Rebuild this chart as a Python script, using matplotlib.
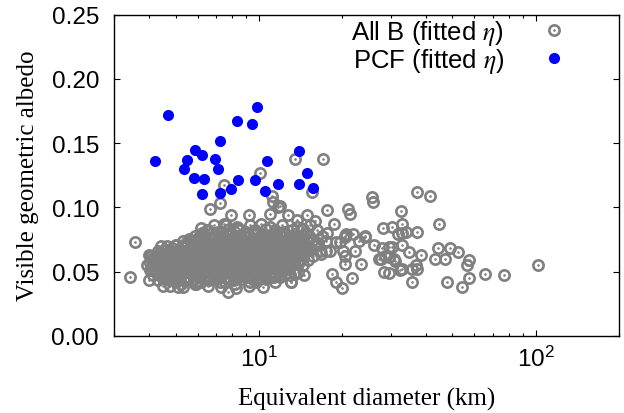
import matplotlib
matplotlib.use("Agg")
import matplotlib.pyplot as plt
from matplotlib.legend_handler import HandlerTuple
from matplotlib.ticker import LogLocator, NullFormatter, FormatStrFormatter

plt.rcParams['font.family'] = ['Liberation Sans', 'DejaVu Sans']
plt.rcParams['mathtext.fontset'] = 'stix'

# PCF family, fitted eta
pcf_diam = [4.2, 4.7, 5.35, 5.5, 5.8, 5.85, 6.2, 6.35, 6.2, 6.95, 7.1, 7.25, 7.25,
            7.9, 8.3, 8.4, 9.45, 9.8, 9.65, 10.55, 10.65, 11.75, 14.0, 14.9, 14.0, 15.7]
pcf_alb = [0.136, 0.172, 0.130, 0.137, 0.123, 0.145, 0.141, 0.122, 0.110, 0.138, 0.130, 0.152, 0.111,
           0.114, 0.167, 0.121, 0.165, 0.178, 0.121, 0.113, 0.136, 0.118, 0.144, 0.127, 0.118, 0.115]

# all B-types, fitted eta (scattered ones first, then the dense core row by row)
allb_diam = [
    3.55, 3.42, 4.07, 4.43, 4.02, 4.49, 5.02, 5.69, 6.18, 6.21, 6.63, 5.85, 5.09, 4.13, 4.19,
    6.45, 5.99, 5.23, 4.43, 4.95, 7.45, 7.2, 10.1, 11.1, 11.7, 13.5, 17.1, 15.6, 17.6, 7.9,
    9.2, 11.0, 12.7, 14.9, 21.0, 16.0, 7.62, 8.39, 11.2, 11.9, 13.7, 6.53, 6.45, 7.72, 8.28,
    7.21, 9.78, 10.9, 11.9, 13.1, 13.5,
    37.2, 41.6, 25.6, 25.8, 21.4, 32.6, 44.7, 37.2, 28.0, 30.2, 33.0, 33.0, 34.1, 18.6, 17.6,
    20.7, 21.9, 24.2, 22.9, 22.3, 26.0, 27.8, 29.4, 27.1, 28.6, 30.7, 34.7, 38.6, 44.5, 49.0,
    52.3, 43.3, 47.0, 57.3, 56.3, 102.0, 65.5, 76.5, 57.3, 54.3, 47.7, 35.8, 35.6, 37.0, 32.2,
    28.4, 23.4, 20.4, 18.4, 18.9, 20.0, 21.7, 14.6, 13.0, 20.5, 19.6, 20.2, 17.4, 16.7, 16.0,
    18.9, 20.4, 27.7, 31.9, 32.8, 30.2, 31.0, 29.4, 29.4, 32.8, 37.1, 18.1, 24.1, 20.4, 16.3,
    # core
    6.9, 7.5, 8.3, 9.3, 10.2, 11.0, 12.1, 13.7, 15.3,
    6.5, 7.1, 7.8, 8.5, 9.0, 9.7, 10.6, 11.4, 12.3, 13.2, 14.4, 16.2,
    5.85, 6.3, 6.7, 7.2, 7.6, 8.2, 8.6, 9.2, 9.7, 10.3, 10.9, 11.6, 12.4, 13.1, 14.0, 15.1, 16.9,
    5.3, 5.6, 6.0, 6.4, 6.8, 7.2, 7.7, 8.2, 8.7, 9.25, 9.9, 10.5, 11.1, 11.9, 12.7, 13.5, 14.4, 15.5, 17.4,
    4.65, 5.0, 5.35, 5.7, 6.05, 6.45, 6.85, 7.3, 7.8, 8.3, 8.8, 9.4, 10.0, 10.6, 11.3, 12.0, 12.8, 13.7, 14.6, 15.9,
    4.3, 4.6, 4.9, 5.25, 5.55, 5.9, 6.25, 6.65, 7.0, 7.5, 7.95, 8.5, 9.0, 9.65, 10.2, 10.9, 11.6, 12.4, 13.2, 14.2, 15.3, 16.6,
    4.0, 4.3, 4.55, 4.85, 5.1, 5.4, 5.75, 6.1, 6.45, 6.85, 7.25, 7.7, 8.2, 8.75, 9.25, 9.8, 10.4, 11.1, 11.8, 12.6, 13.5, 14.4, 15.7,
    4.1, 4.4, 4.7, 4.95, 5.25, 5.55, 5.9, 6.25, 6.6, 7.0, 7.45, 7.95, 8.45, 8.95, 9.5, 10.05, 10.75, 11.4, 12.2, 13.0, 13.9, 15.0,
    3.95, 4.25, 4.5, 4.75, 5.0, 5.35, 5.65, 6.0, 6.35, 6.7, 7.1, 7.6, 8.05, 8.6, 9.1, 9.65, 10.3, 10.9, 11.7, 12.5, 13.4, 14.4,
    4.05, 4.35, 4.6, 4.9, 5.15, 5.45, 5.8, 6.15, 6.5, 6.9, 7.3, 7.75, 8.25, 8.8, 9.3, 9.9, 10.55, 11.2, 12.0, 12.8, 13.8,
    4.15, 4.45, 4.75, 5.1, 5.45, 5.75, 6.1, 6.45, 6.85, 7.25, 7.7, 8.15, 8.75, 9.25, 9.8, 10.5, 11.2, 12.0, 12.9,
    4.3, 4.65, 5.0, 5.35, 5.8, 6.15, 6.6, 7.05, 7.55, 8.1, 8.65, 9.25, 9.9, 10.6, 11.4,
    4.75, 5.3, 5.9, 6.55, 7.3, 8.2, 9.2, 10.3,
    # core, in-between rows
    6.75, 7.35, 8.0, 8.8, 9.55, 10.4, 11.3, 12.3, 13.5, 14.8,
    6.05, 6.45, 6.95, 7.45, 7.95, 8.45, 8.95, 9.5, 10.05, 10.65, 11.3, 12.0, 12.8, 13.7, 14.6,
    5.45, 5.85, 6.2, 6.6, 7.0, 7.45, 7.95, 8.45, 9.05, 9.55, 10.15, 10.85, 11.5, 12.3, 13.1, 14.0, 14.95,
    4.85, 5.15, 5.5, 5.9, 6.25, 6.7, 7.05, 7.55, 8.0, 8.6, 9.1, 9.7, 10.3, 10.9, 11.7, 12.4, 13.25, 14.2, 15.1,
    4.4, 4.7, 5.05, 5.4, 5.7, 6.05, 6.4, 6.8, 7.25, 7.7, 8.2, 8.75, 9.25, 9.9, 10.5, 11.2, 12.0, 12.8, 13.7, 14.6,
    4.15, 4.4, 4.65, 5.0, 5.3, 5.6, 5.95, 6.3, 6.7, 7.05, 7.5, 8.0, 8.5, 9.05, 9.55, 10.15, 10.75, 11.5, 12.3, 13.1, 14.2,
    4.05, 4.35, 4.6, 4.9, 5.15, 5.45, 5.8, 6.15, 6.5, 6.9, 7.3, 7.75, 8.3, 8.8, 9.35, 9.9, 10.6, 11.25, 12.0, 12.8, 13.8,
    4.1, 4.4, 4.65, 4.9, 5.2, 5.5, 5.85, 6.2, 6.55, 6.95, 7.35, 7.8, 8.35, 8.85, 9.4, 10.0, 10.6, 11.3, 12.1, 12.9,
    4.3, 4.55, 4.9, 5.2, 5.55, 5.95, 6.3, 6.7, 7.05, 7.5, 8.0, 8.5, 9.05, 9.55, 10.2, 10.9, 11.7, 12.5,
    4.5, 4.85, 5.2, 5.6, 6.0, 6.4, 6.85, 7.3, 7.85, 8.35, 8.95, 9.55, 10.2, 10.9,
]
allb_alb = [
    0.073, 0.046, 0.062, 0.070, 0.043, 0.039, 0.071, 0.074, 0.084, 0.080, 0.099, 0.040, 0.038, 0.052, 0.056,
    0.044, 0.042, 0.040, 0.047, 0.048, 0.117, 0.103, 0.127, 0.109, 0.100, 0.138, 0.138, 0.112, 0.098, 0.094,
    0.094, 0.095, 0.094, 0.094, 0.099, 0.089, 0.086, 0.084, 0.104, 0.101, 0.090, 0.082, 0.074, 0.034, 0.037,
    0.042, 0.042, 0.046, 0.046, 0.042, 0.048,
    0.112, 0.109, 0.108, 0.104, 0.095, 0.097, 0.087, 0.081, 0.084, 0.085, 0.087, 0.080, 0.081, 0.087, 0.080,
    0.079, 0.079, 0.077, 0.074, 0.066, 0.071, 0.068, 0.069, 0.060, 0.062, 0.060, 0.065, 0.063, 0.068, 0.068,
    0.065, 0.060, 0.060, 0.059, 0.055, 0.055, 0.048, 0.047, 0.045, 0.038, 0.042, 0.042, 0.052, 0.055, 0.051,
    0.050, 0.056, 0.056, 0.048, 0.042, 0.037, 0.045, 0.047, 0.042, 0.078, 0.073, 0.066, 0.066, 0.064, 0.071,
    0.073, 0.062, 0.060, 0.079, 0.071, 0.069, 0.058, 0.061, 0.049, 0.052, 0.052, 0.066, 0.078, 0.077, 0.072,
    # core
    0.086, 0.087, 0.085, 0.086, 0.087, 0.085, 0.086, 0.085, 0.086,
    0.082, 0.081, 0.083, 0.082, 0.081, 0.082, 0.083, 0.082, 0.081, 0.082, 0.083, 0.082,
    0.078, 0.079, 0.077, 0.078, 0.079, 0.078, 0.077, 0.078, 0.079, 0.078, 0.077, 0.078, 0.079, 0.078, 0.077, 0.078, 0.078,
    0.074, 0.075, 0.073, 0.074, 0.075, 0.074, 0.073, 0.074, 0.075, 0.074, 0.073, 0.074, 0.075, 0.074, 0.073, 0.074, 0.075, 0.074, 0.074,
    0.070, 0.071, 0.069, 0.070, 0.071, 0.070, 0.069, 0.070, 0.071, 0.070, 0.069, 0.070, 0.071, 0.070, 0.069, 0.070, 0.071, 0.070, 0.069, 0.070,
    0.066, 0.067, 0.065, 0.066, 0.067, 0.066, 0.065, 0.066, 0.067, 0.066, 0.065, 0.066, 0.067, 0.066, 0.065, 0.066, 0.067, 0.066, 0.065, 0.066, 0.067, 0.066,
    0.063, 0.062, 0.063, 0.064, 0.062, 0.063, 0.064, 0.062, 0.063, 0.064, 0.062, 0.063, 0.064, 0.062, 0.063, 0.064, 0.062, 0.063, 0.064, 0.062, 0.063, 0.064, 0.062,
    0.059, 0.060, 0.058, 0.059, 0.060, 0.058, 0.059, 0.060, 0.058, 0.059, 0.060, 0.058, 0.059, 0.060, 0.058, 0.059, 0.060, 0.058, 0.059, 0.060, 0.058, 0.059,
    0.055, 0.054, 0.056, 0.055, 0.054, 0.056, 0.055, 0.054, 0.056, 0.055, 0.054, 0.056, 0.055, 0.054, 0.056, 0.055, 0.054, 0.056, 0.055, 0.054, 0.056, 0.055,
    0.051, 0.052, 0.050, 0.051, 0.052, 0.050, 0.051, 0.052, 0.050, 0.051, 0.052, 0.050, 0.051, 0.052, 0.050, 0.051, 0.052, 0.050, 0.051, 0.052, 0.050,
    0.047, 0.046, 0.048, 0.047, 0.046, 0.048, 0.047, 0.046, 0.048, 0.047, 0.046, 0.048, 0.047, 0.046, 0.048, 0.047, 0.046, 0.048, 0.047,
    0.043, 0.044, 0.042, 0.043, 0.044, 0.042, 0.043, 0.044, 0.042, 0.043, 0.044, 0.042, 0.043, 0.044, 0.042,
    0.039, 0.038, 0.040, 0.039, 0.038, 0.040, 0.039, 0.038,
    # core, in-between rows
    0.080, 0.081, 0.079, 0.080, 0.081, 0.079, 0.080, 0.081, 0.079, 0.080,
    0.0765, 0.0755, 0.0775, 0.0765, 0.0755, 0.0775, 0.0765, 0.0755, 0.0775, 0.0765, 0.0755, 0.0775, 0.0765, 0.0755, 0.0775,
    0.0725, 0.0735, 0.0715, 0.0725, 0.0735, 0.0715, 0.0725, 0.0735, 0.0715, 0.0725, 0.0735, 0.0715, 0.0725, 0.0735, 0.0715, 0.0725, 0.0735,
    0.0685, 0.0675, 0.0695, 0.0685, 0.0675, 0.0695, 0.0685, 0.0675, 0.0695, 0.0685, 0.0675, 0.0695, 0.0685, 0.0675, 0.0695, 0.0685, 0.0675, 0.0695, 0.0685,
    0.0645, 0.0655, 0.0635, 0.0645, 0.0655, 0.0635, 0.0645, 0.0655, 0.0635, 0.0645, 0.0655, 0.0635, 0.0645, 0.0655, 0.0635, 0.0645, 0.0655, 0.0635, 0.0645, 0.0655,
    0.0605, 0.0615, 0.0595, 0.0605, 0.0615, 0.0595, 0.0605, 0.0615, 0.0595, 0.0605, 0.0615, 0.0595, 0.0605, 0.0615, 0.0595, 0.0605, 0.0615, 0.0595, 0.0605, 0.0615, 0.0595,
    0.0565, 0.0575, 0.0555, 0.0565, 0.0575, 0.0555, 0.0565, 0.0575, 0.0555, 0.0565, 0.0575, 0.0555, 0.0565, 0.0575, 0.0555, 0.0565, 0.0575, 0.0555, 0.0565, 0.0575, 0.0555,
    0.053, 0.0535, 0.0525, 0.053, 0.0535, 0.0525, 0.053, 0.0535, 0.0525, 0.053, 0.0535, 0.0525, 0.053, 0.0535, 0.0525, 0.053, 0.0535, 0.0525, 0.053, 0.0535,
    0.049, 0.0495, 0.0485, 0.049, 0.0495, 0.0485, 0.049, 0.0495, 0.0485, 0.049, 0.0495, 0.0485, 0.049, 0.0495, 0.0485, 0.049, 0.0495, 0.0485,
    0.045, 0.0455, 0.0445, 0.045, 0.0455, 0.0445, 0.045, 0.0455, 0.0445, 0.045, 0.0455, 0.0445, 0.045, 0.0455,
]

x_range = (3, 200)
y_range = (0, 0.25)
y_ticks = [0.0, 0.05, 0.10, 0.15, 0.20, 0.25]
gray = '#808080'

fig = plt.figure(figsize=(6.24, 4.14), dpi=100)
ax = fig.add_axes([0.1832, 0.1867, 0.8088, 0.7754])

ring, = ax.plot(allb_diam, allb_alb, ls='none', marker='o', ms=7.4, mfc='none',
                mec=gray, mew=1.9)
dot, = ax.plot(allb_diam, allb_alb, ls='none', marker='o', ms=1.9, mfc=gray, mec='none')
pcf, = ax.plot(pcf_diam, pcf_alb, ls='none', marker='o', ms=8.0, mfc='#0000ff', mec='none')

ax.set_xscale('log')
ax.set_xlim(*x_range)
ax.set_ylim(*y_range)
ax.set_yticks(y_ticks)
ax.yaxis.set_major_formatter(FormatStrFormatter('%.2f'))
ax.xaxis.set_minor_locator(LogLocator(base=10, subs=range(2, 10)))
ax.xaxis.set_minor_formatter(NullFormatter())

ax.tick_params(which='both', direction='in', top=True, right=True, width=0.8)
ax.tick_params(which='major', length=4, labelsize=17.5)
ax.tick_params(which='minor', length=2.3)
ax.tick_params(axis='x', pad=7)
ax.tick_params(axis='y', pad=11)
for s in ax.spines.values():
    s.set_linewidth(1.0)

ax.set_xlabel('Equivalent diameter (km)', fontfamily='Liberation Serif', fontsize=18)
ax.set_ylabel('Visible geometric albedo', fontfamily='Liberation Serif', fontsize=18)
ax.xaxis.set_label_coords(0.5, -0.160)
ax.yaxis.set_label_coords(-0.150, 0.5)

ax.legend([(ring, dot), pcf], [r'All B (fitted $\eta$)', r'PCF (fitted $\eta$)'],
          handler_map={tuple: HandlerTuple(ndivide=1)},
          loc='upper right', bbox_to_anchor=(0.897, 0.99), frameon=False,
          markerfirst=False, handlelength=1.0, handletextpad=1.45,
          borderpad=0, borderaxespad=0, labelspacing=-0.05, fontsize=18.5)

fig.savefig('out.png', dpi=100)
